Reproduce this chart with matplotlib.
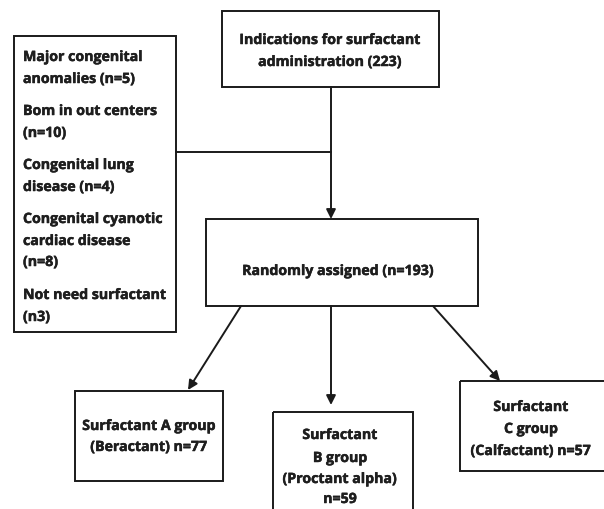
import matplotlib.pyplot as plt
import matplotlib.patheffects as pe
from matplotlib.patches import Rectangle

plt.rcParams['font.family'] = ['Open Sans', 'DejaVu Sans']

# flowchart content
top_lines = ["Indications for surfactant", "administration (223)"]
excluded = [["Major congenital", "anomalies (n=5)"],
            ["Bom in out centers", "(n=10)"],
            ["Congenital lung", "disease (n=4)"],
            ["Congenital cyanotic", "cardiac disease", "(n=8)"],
            ["Not need surfactant", "(n3)"]]
random_label = "Randomly assigned (n=193)"
group_a = ["Surfactant A group", "(Beractant) n=77"]
group_b = ["Surfactant", "B group", "(Proctant alpha)", "n=59"]
group_c = ["Surfactant", "C group", "(Calfactant) n=57"]

fig = plt.figure(figsize=(6.04, 5.10), dpi=100)
ax = fig.add_axes([0, 0, 1, 1])
ax.set_xlim(0, 604)
ax.set_ylim(510, 0)
ax.axis('off')

lc = '#1a1a1a'
tc = '#1e1e1e'
lw = 1.4
fs = 10.2


def box(x0, y0, x1, y1):
    ax.add_patch(Rectangle((x0, y0), x1 - x0, y1 - y0, fill=False,
                           edgecolor=lc, linewidth=lw))


def lines(xc, ys, texts, ha='center'):
    for y, t in zip(ys, texts):
        ax.text(xc, y, t, ha=ha, va='center', fontsize=fs,
                fontweight='bold', color=tc,
                path_effects=[pe.withStroke(linewidth=0.35, foreground=tc)])


def arrow(x0, y0, x1, y1):
    ax.annotate('', xy=(x1, y1), xytext=(x0, y0),
                arrowprops=dict(arrowstyle='-|>', color=lc, lw=lw,
                                mutation_scale=14, shrinkA=0, shrinkB=0))


# top box
box(222, 12, 439, 88)
lines(330, [41, 63], top_lines)

# exclusion box
box(14, 37, 176, 333)
ys = [[58, 80], [112, 134], [166, 188], [220, 242, 263], [296, 318]]
for grp, yy in zip(excluded, ys):
    lines(23, yy, grp, ha='left')

# connectors
ax.plot([331, 331], [88, 153], color=lc, lw=lw)
ax.plot([176, 331], [153, 153], color=lc, lw=lw)
arrow(331, 153, 331, 220)

# randomisation box
box(206, 220, 478, 307)
lines(338, [272], [random_label])

# arms
arrow(241, 307, 188, 391)
arrow(331, 307, 331, 406)
arrow(433, 307, 500, 382)

box(75, 392, 223, 482)
lines(149, [427, 448], group_a)

box(273, 413, 413, 520)
lines(340, [436, 459, 480, 500], group_b)

box(460, 382, 606, 472)
lines(531, [408, 430, 452], group_c)

fig.savefig('out.png', dpi=100, facecolor='white')
